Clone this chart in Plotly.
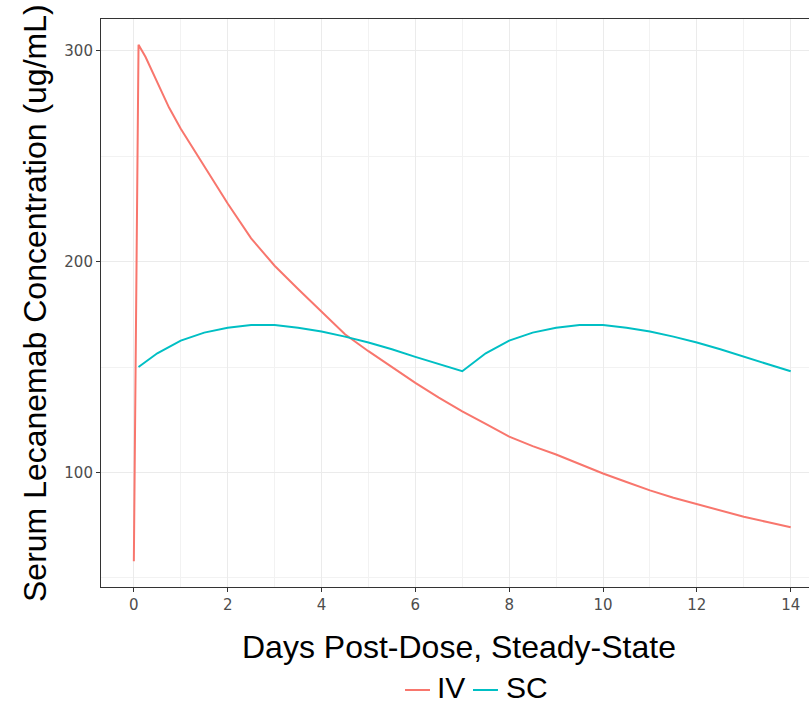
import plotly.graph_objects as go

# IV series (days, ug/mL)
iv_days = [0, 0.1, 0.25, 0.5, 0.75, 1, 1.5, 2, 2.5, 3, 3.5, 4, 4.5, 5, 5.5, 6, 6.5, 7,
           7.5, 8, 8.5, 9, 9.5, 10, 10.5, 11, 11.5, 12, 12.5, 13, 13.5, 14]
iv_conc = [57.9, 302.8, 297, 285, 273, 263, 245, 227.5, 211, 198, 187, 176, 165.5, 157.5,
           150, 142.5, 135.5, 129, 123, 117, 112.5, 108.5, 104, 99.5, 95.5, 91.5, 88, 85,
           82, 79, 76.5, 74]

# SC series (days, ug/mL)
sc_days = [0.1, 0.5, 1, 1.5, 2, 2.5, 3, 3.5, 4, 4.5, 5, 5.5, 6, 6.5, 7,
           7.5, 8, 8.5, 9, 9.5, 10, 10.5, 11, 11.5, 12, 12.5, 13, 13.5, 14]
sc_conc = [150, 156.5, 162.5, 166.3, 168.6, 169.9, 169.9, 168.6, 166.8, 164.4, 161.6,
           158.4, 154.8, 151.4, 148,
           156.5, 162.5, 166.3, 168.6, 169.9, 169.9, 168.6, 166.8, 164.4, 161.6,
           158.4, 154.8, 151.4, 148]

series_names = ["IV", "SC"]
series_colors = ["#F8766D", "#00BFC4"]

x_ticks = [0, 2, 4, 6, 8, 10, 12, 14]
y_ticks = [100, 200, 300]

x_title = "Days Post-Dose, Steady-State"
y_title = "Serum Lecanemab Concentration (ug/mL)"

fig = go.Figure()
fig.add_trace(go.Scatter(x=iv_days, y=iv_conc, mode="lines", name=series_names[0],
                         line=dict(color=series_colors[0], width=2)))
fig.add_trace(go.Scatter(x=sc_days, y=sc_conc, mode="lines", name=series_names[1],
                         line=dict(color=series_colors[1], width=2)))

axis_common = dict(
    showline=True, linecolor="#333333", linewidth=1.1,
    ticks="outside", ticklen=4, tickwidth=1.1, tickcolor="#333333",
    tickfont=dict(family="DejaVu Sans", size=15, color="#4d4d4d"),
    showgrid=True, gridcolor="#ebebeb", gridwidth=1.3, zeroline=False,
    automargin=False,
)

fig.update_xaxes(range=[-0.7, 14.39], tickvals=x_ticks, mirror=True,
                 minor=dict(showgrid=True, gridcolor="#f2f2f2", gridwidth=0.7,
                            tick0=0, dtick=1, ticks=""),
                 **axis_common)
fig.update_yaxes(range=[45.7, 315], tickvals=y_ticks,
                 minor=dict(showgrid=True, gridcolor="#f2f2f2", gridwidth=0.7,
                            tick0=0, dtick=50, ticks=""),
                 **axis_common)

# Legend (ggplot-style, drawn below the x title)
legend_key_x = [(0.4294, 0.4647), (0.5254, 0.5607)]
legend_text_x = [0.4718, 0.5692]
legend_line_y = -0.1813
legend_text_y = -0.1778

shapes = []
annotations = [
    dict(text=x_title, xref="paper", yref="paper", x=0.506, y=-0.1054,
         xanchor="center", yanchor="middle", showarrow=False,
         font=dict(family="Liberation Sans", size=32, color="black")),
    dict(text=y_title, xref="paper", yref="paper", x=-0.0932, y=0.5,
         xanchor="center", yanchor="middle", showarrow=False, textangle=-90,
         font=dict(family="Liberation Sans", size=32, color="black")),
]
for name, color, (kx0, kx1), tx in zip(series_names, series_colors, legend_key_x, legend_text_x):
    shapes.append(dict(type="line", xref="paper", yref="paper", x0=kx0, x1=kx1,
                       y0=legend_line_y, y1=legend_line_y,
                       line=dict(color=color, width=2)))
    annotations.append(dict(text=name, xref="paper", yref="paper", x=tx, y=legend_text_y,
                            xanchor="left", yanchor="middle", showarrow=False,
                            font=dict(family="Liberation Sans", size=30, color="black")))

fig.update_layout(
    width=809, height=704,
    margin=dict(l=101, r=0, t=19, b=117, autoexpand=False),
    plot_bgcolor="white", paper_bgcolor="white",
    showlegend=False,
    shapes=shapes,
    annotations=annotations,
)

fig.write_html("out.html")
